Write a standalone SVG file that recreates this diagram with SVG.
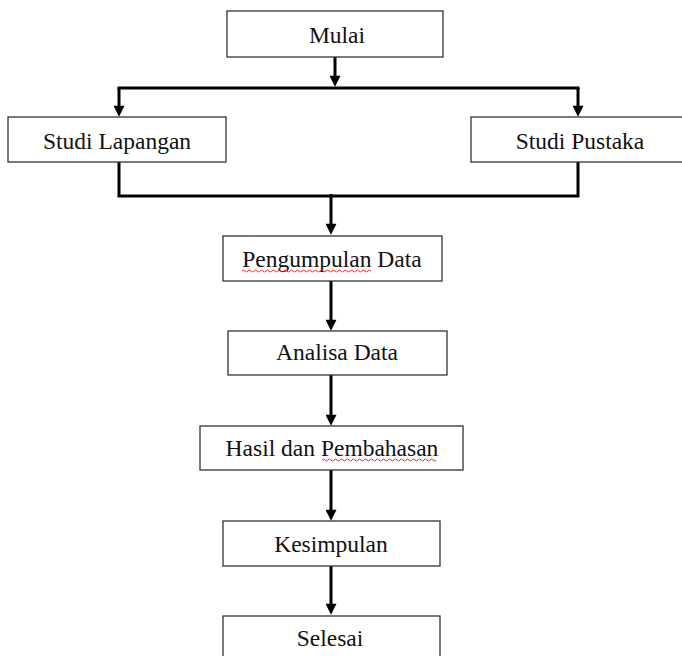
<svg xmlns="http://www.w3.org/2000/svg" width="682" height="656" viewBox="0 0 682 656">
<style>
.box{fill:#fff;stroke:#333;stroke-width:1.3}
.lbl{font-family:"Liberation Serif","Times New Roman",serif;font-size:23.5px;fill:#111;text-anchor:middle}
.con{fill:none;stroke:#000;stroke-width:3}
.arr{marker-end:url(#ah)}
.spell{fill:none;stroke:#e03030;stroke-width:1}
</style>
<defs>
<marker id="ah" viewBox="0 0 12 12" refX="8" refY="6" markerWidth="12" markerHeight="11" markerUnits="userSpaceOnUse" orient="auto">
<path d="M0,0 L12,6 L0,12 z" fill="#000"/>
</marker>
</defs>
<rect width="682" height="656" fill="#fff"/>
<g id="connectors">
<path class="con arr" d="M335,57 V83"/>
<path class="con" d="M117.5,88 H579.5"/>
<path class="con arr" d="M119,88 V113"/>
<path class="con arr" d="M578,88 V113"/>
<path class="con" d="M119,162 V196 H578 V162"/>
<path class="con arr" d="M331,194 V231"/>
<path class="con arr" d="M331,281 V327"/>
<path class="con arr" d="M331,375 V422"/>
<path class="con arr" d="M331,470 V517"/>
<path class="con arr" d="M331,566 V611"/>
</g>
<g id="mulai"><rect class="box" x="227" y="11" width="216" height="46"/><text class="lbl" x="337" y="43">Mulai</text></g>
<g id="studi-lapangan"><rect class="box" x="8" y="117" width="218" height="45"/><text class="lbl" x="117" y="149">Studi Lapangan</text></g>
<g id="studi-pustaka"><rect class="box" x="471" y="117" width="212" height="45"/><text class="lbl" x="580" y="149">Studi Pustaka</text></g>
<g id="pengumpulan-data"><rect class="box" x="223" y="236" width="219" height="45"/><text class="lbl" x="332" y="267">Pengumpulan Data</text>
<path class="spell" d="M242,271 q1.5,-2 3,0 t3,0 t3,0 t3,0 t3,0 t3,0 t3,0 t3,0 t3,0 t3,0 t3,0 t3,0 t3,0 t3,0 t3,0 t3,0 t3,0 t3,0 t3,0 t3,0 t3,0 t3,0 t3,0 t3,0 t3,0 t3,0 t3,0 t3,0 t3,0 t3,0 t3,0 t3,0 t3,0 t3,0 t3,0 t3,0 t3,0 t3,0 t3,0 t3,0 t3,0 t3,0 t3,0"/></g>
<g id="analisa-data"><rect class="box" x="228" y="331" width="219" height="44"/><text class="lbl" x="337" y="360">Analisa Data</text></g>
<g id="hasil-pembahasan"><rect class="box" x="200" y="426" width="263" height="44"/><text class="lbl" x="332" y="456">Hasil dan Pembahasan</text>
<path class="spell" d="M322,460 q1.5,-2 3,0 t3,0 t3,0 t3,0 t3,0 t3,0 t3,0 t3,0 t3,0 t3,0 t3,0 t3,0 t3,0 t3,0 t3,0 t3,0 t3,0 t3,0 t3,0 t3,0 t3,0 t3,0 t3,0 t3,0 t3,0 t3,0 t3,0 t3,0 t3,0 t3,0 t3,0 t3,0 t3,0 t3,0 t3,0 t3,0 t3,0 t3,0"/></g>
<g id="kesimpulan"><rect class="box" x="223" y="521" width="217" height="45"/><text class="lbl" x="331" y="552">Kesimpulan</text></g>
<g id="selesai"><rect class="box" x="223" y="616" width="217" height="50"/><text class="lbl" x="330" y="646">Selesai</text></g>
</svg>
